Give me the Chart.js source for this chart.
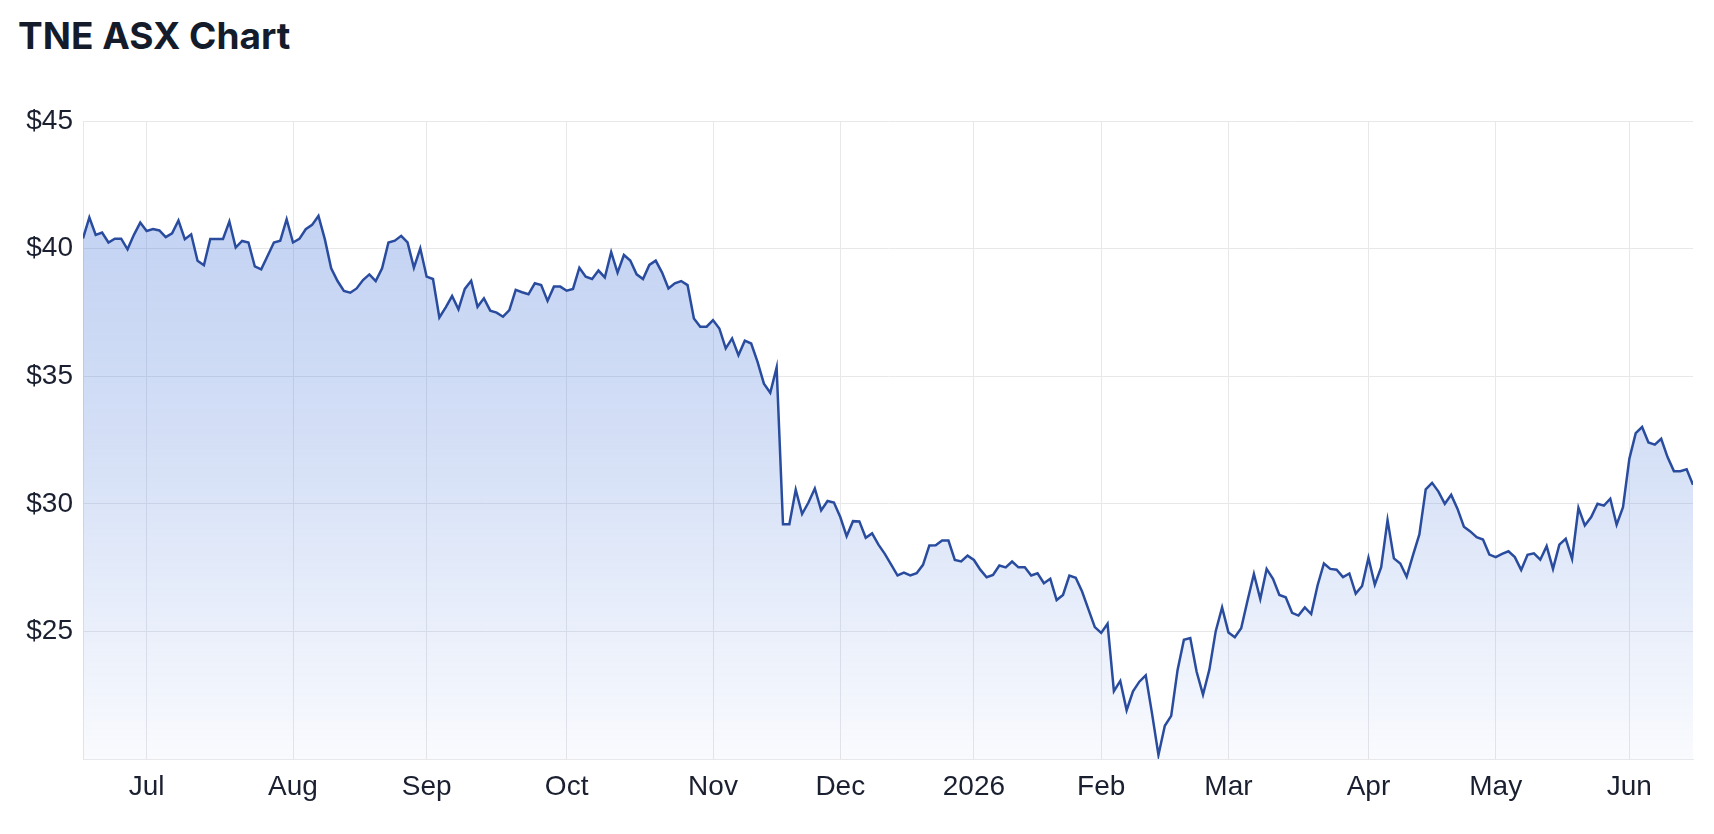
<!DOCTYPE html>
<html>
<head>
<meta charset="utf-8">
<title>TNE ASX Chart</title>
<script src="https://cdn.jsdelivr.net/npm/chart.js@4"></script>
<style>
  html, body { margin: 0; padding: 0; background: #fff; }
  #wrap { position: relative; width: 1714px; height: 834px; }
  #title {
    position: absolute; left: 18px; top: 17px;
    font: 700 37px/37px Inter, "Liberation Sans", sans-serif;
    color: #141b2b; margin: 0;
  }
  #chart { position: absolute; left: 0; top: 0; }
</style>
</head>
<body>
<div id="wrap">
  <h1 id="title">TNE ASX Chart</h1>
  <canvas id="chart" width="1714" height="834"></canvas>
</div>
<script>
// --- data (one close per trading day, mid Jun 2025 -> mid Jun 2026) ---
const prices = [
  40.40, 41.22, 40.54, 40.63, 40.24, 40.39, 40.39, 39.97, 40.54, 41.02,
  40.69, 40.77, 40.71, 40.45, 40.60, 41.10, 40.37, 40.56, 39.52, 39.35,
  40.38, 40.38, 40.38, 41.06, 40.04, 40.30, 40.24, 39.30, 39.19, 39.71,
  40.24, 40.31, 41.15, 40.24, 40.38, 40.76, 40.93, 41.28, 40.37, 39.23,
  38.73, 38.34, 38.27, 38.44, 38.77, 38.99, 38.73, 39.23, 40.24, 40.31,
  40.50, 40.24, 39.25, 40.01, 38.90, 38.81, 37.30, 37.70, 38.14, 37.62,
  38.42, 38.74, 37.72, 38.05, 37.57, 37.49, 37.33, 37.59, 38.38, 38.29,
  38.21, 38.64, 38.57, 37.95, 38.51, 38.51, 38.35, 38.42, 39.25, 38.90,
  38.81, 39.14, 38.87, 39.86, 39.06, 39.75, 39.53, 38.99, 38.81, 39.36,
  39.53, 39.06, 38.44, 38.64, 38.73, 38.57, 37.26, 36.94, 36.94, 37.20,
  36.87, 36.09, 36.48, 35.82, 36.39, 36.28, 35.56, 34.71, 34.35, 35.34,
  29.20, 29.20, 30.55, 29.60, 30.05, 30.60, 29.74, 30.11, 30.05, 29.48,
  28.73, 29.32, 29.31, 28.67, 28.84, 28.40, 28.04, 27.62, 27.19, 27.30,
  27.19, 27.28, 27.61, 28.37, 28.38, 28.56, 28.56, 27.80, 27.74, 27.97,
  27.80, 27.42, 27.12, 27.21, 27.58, 27.51, 27.74, 27.51, 27.51, 27.19,
  27.28, 26.89, 27.06, 26.23, 26.43, 27.19, 27.10, 26.56, 25.86, 25.17,
  24.94, 25.30, 22.66, 23.06, 21.91, 22.65, 23.03, 23.28, 21.77, 20.16,
  21.30, 21.69, 23.48, 24.67, 24.74, 23.42, 22.52, 23.50, 25.01, 25.94,
  24.96, 24.77, 25.12, 26.21, 27.25, 26.27, 27.45, 27.06, 26.43, 26.34,
  25.73, 25.62, 25.94, 25.68, 26.80, 27.66, 27.45, 27.42, 27.13, 27.27,
  26.48, 26.78, 27.88, 26.83, 27.52, 29.36, 27.86, 27.66, 27.14, 27.99,
  28.80, 30.57, 30.82, 30.48, 30.00, 30.35, 29.80, 29.10, 28.92, 28.69,
  28.60, 28.01, 27.91, 28.04, 28.14, 27.91, 27.41, 28.00, 28.06, 27.81,
  28.34, 27.45, 28.40, 28.63, 27.84, 29.84, 29.15, 29.48, 30.00, 29.93,
  30.20, 29.18, 29.87, 31.77, 32.77, 33.01, 32.40, 32.32, 32.55, 31.83,
  31.28, 31.28, 31.35, 30.75
];

// first trading day of each month, as an index into prices
const monthIdx = [10, 33, 54, 76, 99, 119, 140, 160, 180, 202, 222, 243];
const monthLabels = ["Jul", "Aug", "Sep", "Oct", "Nov", "Dec", "2026", "Feb", "Mar", "Apr", "May", "Jun"];

const yTicks = [20, 25, 30, 35, 40, 45];

// --- chart ---
const TICK_FONT = { family: "'Liberation Sans', Arial, sans-serif", size: 28 };
const GRID = "#e8e8eb";

function fillGradient(context) {
  const area = context.chart.chartArea;
  if (!area) return "rgba(59,110,215,0.3)";
  const g = context.chart.ctx.createLinearGradient(0, area.top, 0, area.bottom);
  g.addColorStop(0, "rgba(59,110,215,0.34)");
  g.addColorStop(0.5, "rgba(59,110,215,0.22)");
  g.addColorStop(1, "rgba(59,110,215,0.03)");
  return g;
}

new Chart(document.getElementById("chart"), {
  type: "line",
  data: {
    datasets: [
      {
        label: "TNE",
        data: prices.map((p, i) => ({ x: i, y: p })),
        borderColor: "#2a4c9e",
        borderWidth: 2.5,
        backgroundColor: fillGradient,
        fill: "start",
        pointRadius: 0,
        tension: 0,
      },
    ],
  },
  options: {
    responsive: false,
    animation: false,
    layout: { padding: { top: 121, right: 21, left: 0, bottom: 0 } },
    plugins: { legend: { display: false }, tooltip: { enabled: false } },
    scales: {
      x: {
        type: "linear",
        min: 0,
        max: prices.length - 1,
        afterBuildTicks: (s) => { s.ticks = monthIdx.map((v) => ({ value: v })); },
        afterFit: (s) => { s.height = 75; },
        ticks: {
          autoSkip: false,
          maxRotation: 0,
          padding: 11,
          color: "#1b2030",
          font: TICK_FONT,
          callback: (v) => monthLabels[monthIdx.indexOf(v)],
        },
        grid: { color: GRID, drawTicks: false },
        border: { color: GRID },
      },
      y: {
        min: 20,
        max: 45,
        afterBuildTicks: (s) => { s.ticks = yTicks.map((v) => ({ value: v })); },
        afterFit: (s) => { s.width = 83; },
        ticks: {
          padding: 10,
          color: "#1b2030",
          font: TICK_FONT,
          callback: (v) => (v === 20 ? "" : "$" + v),
        },
        grid: { color: GRID, drawTicks: false },
        border: { color: GRID },
      },
    },
  },
});
</script>
</body>
</html>
